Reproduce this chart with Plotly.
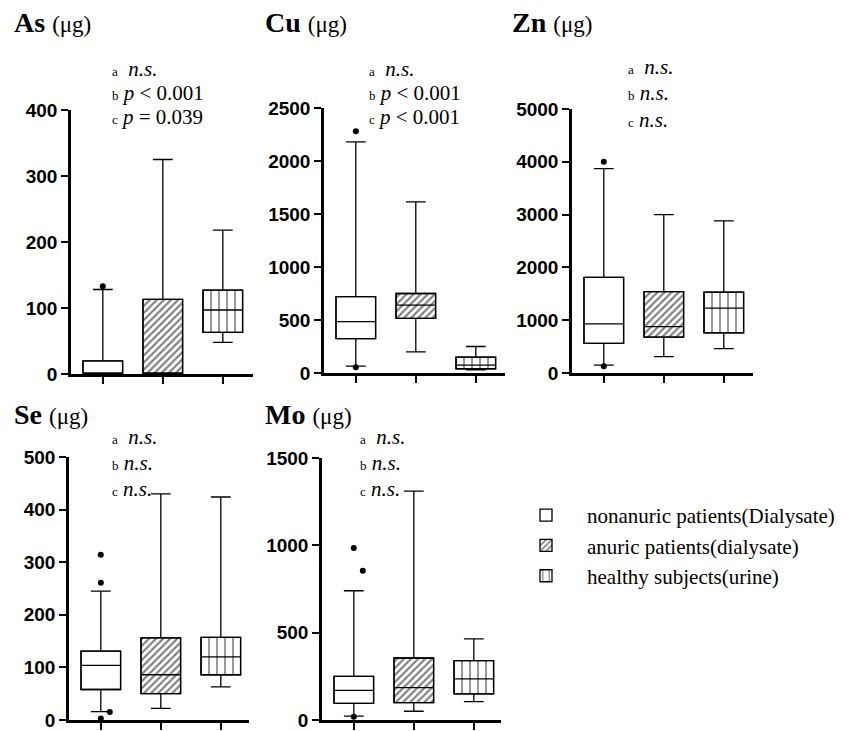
import plotly.graph_objects as go

W, H = 857, 731

groups = ["nonanuric patients(Dialysate)", "anuric patients(dialysate)", "healthy subjects(urine)"]
patterns = ["", "/", "|"]
elements = ["As", "Cu", "Zn", "Se", "Mo"]

# box statistics per element: [nonanuric, anuric, healthy]
as_lower = [0, 0, 48]
as_q1 = [0, 0, 63]
as_median = [0, 0, 97]
as_q3 = [20, 113, 127]
as_upper = [128, 325, 218]
as_out_x = [0]
as_out_y = [133]

cu_lower = [65, 200, 30]
cu_q1 = [325, 515, 40]
cu_median = [485, 640, 75]
cu_q3 = [720, 750, 150]
cu_upper = [2180, 1615, 250]
cu_out_x = [0, 0]
cu_out_y = [2280, 55]

zn_lower = [150, 310, 460]
zn_q1 = [560, 680, 760]
zn_median = [930, 880, 1230]
zn_q3 = [1810, 1540, 1530]
zn_upper = [3870, 3000, 2880]
zn_out_x = [0, 0]
zn_out_y = [4000, 130]

se_lower = [16, 22, 63]
se_q1 = [58, 50, 86]
se_median = [104, 86, 120]
se_q3 = [131, 156, 157]
se_upper = [245, 430, 424]
se_out_x = [0, 0, 0.15, 0]
se_out_y = [314, 261, 15, 3]

mo_lower = [22, 50, 105]
mo_q1 = [95, 100, 150]
mo_median = [170, 185, 235]
mo_q3 = [250, 355, 340]
mo_upper = [740, 1310, 465]
mo_out_x = [0, 0.15, 0]
mo_out_y = [985, 855, 18]

ymax = [400, 2500, 5000, 500, 1500]
ytick_step = [100, 500, 1000, 100, 500]

stats_a = ["&nbsp;<i>n.s.</i>", "&nbsp;<i>n.s.</i>", "&nbsp;<i>n.s.</i>", "&nbsp;<i>n.s.</i>", "&nbsp;<i>n.s.</i>"]
stats_b = ["<i>p</i> < 0.001", "<i>p</i> < 0.001", "<i>n.s.</i>", "<i>n.s.</i>", "<i>n.s.</i>"]
stats_c = ["<i>p</i> = 0.039", "<i>p</i> < 0.001", "<i>n.s.</i>", "<i>n.s.</i>", "<i>n.s.</i>"]

data = {
    "As": (as_lower, as_q1, as_median, as_q3, as_upper, as_out_x, as_out_y),
    "Cu": (cu_lower, cu_q1, cu_median, cu_q3, cu_upper, cu_out_x, cu_out_y),
    "Zn": (zn_lower, zn_q1, zn_median, zn_q3, zn_upper, zn_out_x, zn_out_y),
    "Se": (se_lower, se_q1, se_median, se_q3, se_upper, se_out_x, se_out_y),
    "Mo": (mo_lower, mo_q1, mo_median, mo_q3, mo_upper, mo_out_x, mo_out_y),
}

# panel pixel layout: (axis_left, axis_right, y_zero, y_top)
panels = [
    (71, 253, 374, 110),
    (324, 505, 373, 108),
    (572, 753, 373, 109),
    (69, 249, 720, 457),
    (322, 501, 720, 458),
]
title_pos = [(12, 23), (263, 23), (510, 23), (12, 415), (263, 415)]
stat_pos = [(110, [69, 93, 117]), (367, [69, 93, 117]), (626, [67, 93, 120]),
            (110, [437, 463, 489]), (358, [437, 463, 489])]

fig = go.Figure()
BW = 0.66
serif = "Times New Roman, Liberation Serif, serif"
sans = "Arial, Liberation Sans, sans-serif"

for k, el in enumerate(elements):
    lo, q1, md, q3, up, ox, oy = data[el]
    xa = "x" if k == 0 else f"x{k+1}"
    ya = "y" if k == 0 else f"y{k+1}"
    for g in range(3):
        fig.add_trace(go.Bar(
            x=[g], y=[q3[g] - q1[g]], base=[q1[g]], width=BW,
            name=groups[g], legendgroup=groups[g], showlegend=(k == 0),
            marker=dict(color="white", line=dict(color="black", width=1.3),
                        pattern=dict(shape=patterns[g], fgcolor="black", bgcolor="white",
                                     size=5 if g == 1 else 8,
                                     solidity=0.42 if g == 1 else 0.2)),
            xaxis=xa, yaxis=ya, hoverinfo="skip"))
    for g in range(3):
        fig.add_trace(go.Box(
            x=[g], q1=[q1[g]], median=[md[g]], q3=[q3[g]],
            lowerfence=[lo[g]], upperfence=[up[g]], width=BW, whiskerwidth=0.5,
            fillcolor="rgba(0,0,0,0)", line=dict(color="black", width=1.3),
            boxpoints=False, showlegend=False, xaxis=xa, yaxis=ya))
    fig.add_trace(go.Scatter(
        x=ox, y=oy, mode="markers", marker=dict(color="black", size=6),
        showlegend=False, cliponaxis=False, xaxis=xa, yaxis=ya))

    L, R, Y0, YT = panels[k]
    xd = [L / W, R / W]
    yd = [1 - Y0 / H, 1 - YT / H]
    span = (R - L) / 60.0
    x0 = -0.53
    axis_common = dict(showline=True, linecolor="black", linewidth=2.5, ticks="outside",
                       tickwidth=2, tickcolor="black", showgrid=False, zeroline=False,
                       automargin=False)
    fig.layout[("xaxis" if k == 0 else f"xaxis{k+1}")] = dict(
        domain=xd, range=[x0, x0 + span], anchor=ya, tickvals=[0, 1, 2],
        showticklabels=False, ticklen=7, **axis_common)
    tv = list(range(0, ymax[k] + 1, ytick_step[k]))
    fig.layout[("yaxis" if k == 0 else f"yaxis{k+1}")] = dict(
        domain=yd, range=[0, ymax[k]], anchor=xa, tickmode="array", tickvals=tv,
        ticktext=[f"<b>{v}</b>" for v in tv], ticklabeloverflow="allow",
        ticklen=7, tickfont=dict(family=sans, size=19, color="black"),
        **axis_common)

    tx, ty = title_pos[k]
    fig.add_annotation(x=tx / W, y=1 - ty / H, xref="paper", yref="paper",
                       xanchor="left", yanchor="middle", showarrow=False,
                       text=f"<b>{el}</b> <span style='font-size:23px'>(μg)</span>",
                       font=dict(family=serif, size=28, color="black"))
    sx, sys_ = stat_pos[k]
    for j, (lab, st) in enumerate(zip(["a", "b", "c"], [stats_a[k], stats_b[k], stats_c[k]])):
        fig.add_annotation(x=sx / W, y=1 - sys_[j] / H, xref="paper", yref="paper",
                           xanchor="left", yanchor="middle", showarrow=False,
                           text=f"<span style='font-size:13px'>{lab}</span> {st}",
                           font=dict(family=serif, size=21, color="black"))

fig.update_layout(
    width=W, height=H, margin=dict(l=0, r=0, t=0, b=0, autoexpand=False),
    paper_bgcolor="white", plot_bgcolor="white",
    barmode="overlay", boxmode="overlay",
    font=dict(family=serif, color="black"),
    showlegend=True,
    legend=dict(x=505 / W, y=1 - 495 / H, xanchor="left", yanchor="top",
                font=dict(family=serif, size=21, color="black"),
                bgcolor="rgba(0,0,0,0)", itemwidth=72, tracegroupgap=0),
)

fig.write_html("out.html", config={"displayModeBar": False},
               post_script="document.body.style.margin='0px';document.body.style.overflow='hidden';")
